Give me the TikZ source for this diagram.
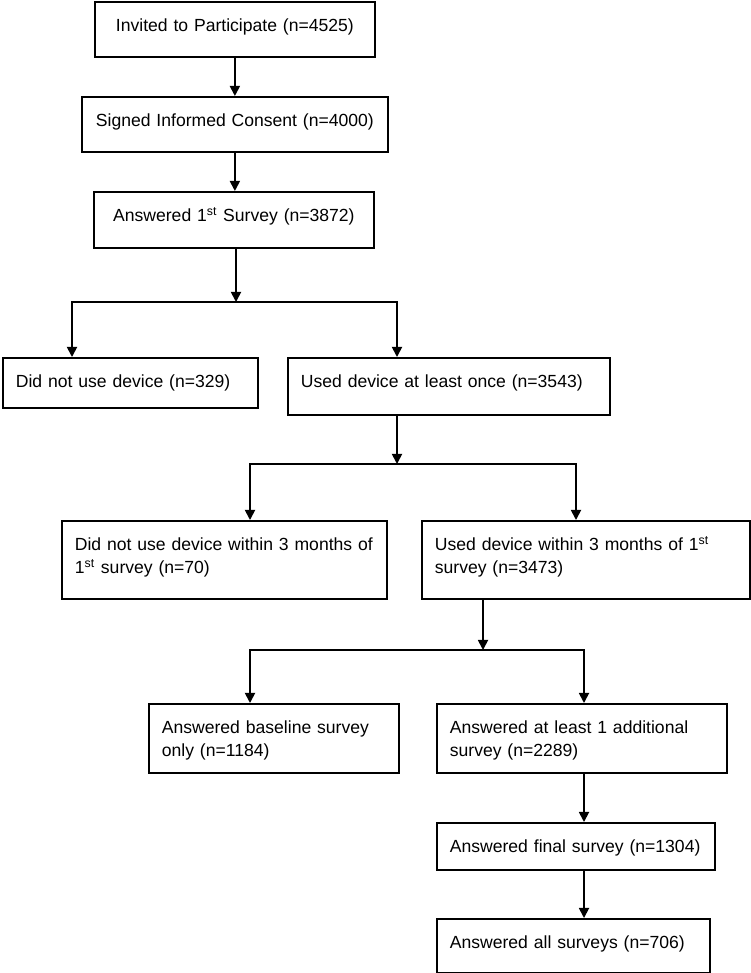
\documentclass[tikz,border=0pt]{standalone}
\usepackage{fontspec}
\setmainfont{Liberation Sans}
\usetikzlibrary{arrows.meta}
\newcommand*{\stageX}[6]{%
  \node [ stage, #5, text width = {(#3-26)*0.2mm},
          text depth = {(#4-30)*0.2mm} ] (#1) at (#2) {%
    #6
  };
}

\begin{document}
\begin{tikzpicture}[x=0.2mm, y=-0.2mm,
    every node/.style={font=\fontsize{10}{13}\selectfont},
    stage/.style={draw, line width=1pt, rectangle, anchor=north west,
                  inner xsep=2.6mm, inner ysep=0pt, text height=6mm,
                  align=left},
    mid/.style={align=center},
    flow/.style={line width=1pt, -{Triangle[width=5.7pt, length=5.7pt]}}]

\useasboundingbox (0,0) rectangle (750,973);

\stageX{invited}{94,1}{280}{55}{mid}{Invited to Participate (n=4525)}
\stageX{consent}{81,96}{306}{55}{mid}{Signed Informed Consent (n=4000)}
\stageX{first}{93,191}{280}{56}{mid}{Answered 1\textsuperscript{st} Survey (n=3872)}
\stageX{nouse}{2,357}{255}{50}{}{Did not use device (n=329)}
\stageX{used}{287,357}{322}{57}{}{Used device at least once (n=3543)}
\stageX{notwithin}{61,520}{325}{78}{}{Did not use device within 3 months of\\
  1\textsuperscript{st} survey (n=70)}
\stageX{within}{421,520}{328}{78}{}{Used device within 3 months of 1\textsuperscript{st}\\
  survey (n=3473)}
\stageX{baseline}{148,703}{250}{69}{}{Answered baseline survey\\only (n=1184)}
\stageX{additional}{436,703}{290}{69}{}{Answered at least 1 additional\\survey (n=2289)}
\stageX{final}{436,822}{278}{47}{}{Answered final survey (n=1304)}
\stageX{allsurv}{436,918}{273}{54}{}{Answered all surveys (n=706)}
%
\coordinate (fork1) at (236,302);
\coordinate (fork1l) at (72,302);
\coordinate (fork1r) at (397,302);
\coordinate (fork2) at (397,464);
\coordinate (fork2l) at (250,464);
\coordinate (fork2r) at (576,464);
\coordinate (fork3) at (483,650);
\coordinate (fork3l) at (250,650);
\coordinate (fork3r) at (584,650);
%
\draw[flow] (invited) -- (invited |- consent.north);
\draw[flow] (consent) -- (consent |- first.north);
\draw[flow] (first.south -| fork1) -- (fork1);
\draw[flow] (fork1) -| (fork1l |- nouse.north);
\draw[flow] (fork1) -| (fork1r |- used.north);
\draw[flow] (used.south -| fork2) -- (fork2);
\draw[flow] (fork2) -| (fork2l |- notwithin.north);
\draw[flow] (fork2) -| (fork2r |- within.north);
\draw[flow] (within.south -| fork3) -- (fork3);
\draw[flow] (fork3) -| (fork3l |- baseline.north);
\draw[flow] (fork3) -| (fork3r |- additional.north);
\draw[flow] (additional.south -| fork3r) -- (fork3r |- final.north);
\draw[flow] (final.south -| fork3r) -- (fork3r |- allsurv.north);
\end{tikzpicture}
\end{document}
